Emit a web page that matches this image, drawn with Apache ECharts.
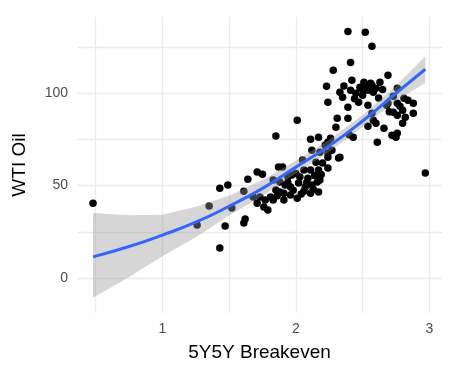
<!DOCTYPE html>
<html lang="en">
<head>
  <meta charset="UTF-8">
  <title>WTI Oil vs 5Y5Y Breakeven</title>
  <script src="https://cdn.jsdelivr.net/npm/echarts@6/dist/echarts.min.js"></script>
  <style>
    html, body { margin: 0; padding: 0; background: #fff; }
    #chart { width: 469px; height: 378px; }
  </style>
</head>
<body>
  <div id="chart"></div>
  <script>
    // scatter points: 5Y5Y breakeven (x) and WTI oil price (y)
    const breakeven = [
      0.48, 1.26, 1.35, 1.43, 1.49, 1.47, 1.43, 1.52, 1.61, 1.64, 1.62, 1.61, 1.68, 1.71, 1.71, 1.75, 1.73, 1.77, 1.76, 1.79,
      1.85, 2.01, 1.83, 1.87, 1.90, 1.88, 1.92, 1.96, 2.02, 2.07, 2.12, 2.16, 2.17, 2.11, 2.01, 1.96, 1.88, 1.85, 1.81, 1.83,
      1.91, 1.91, 2.03, 2.09, 1.97, 1.94, 2.05, 2.06, 2.11, 2.17, 2.15, 2.20, 2.12, 2.18, 2.24, 2.24, 2.32, 2.18, 2.11, 2.17,
      2.24, 2.26, 2.22, 2.27, 2.33, 2.24,
      1.98, 2.04, 2.08, 2.14, 2.13, 1.94, 2.00, 2.06, 1.86, 2.19,
      2.24, 2.23, 2.28, 2.41, 2.39, 2.52, 2.57, 2.69, 2.76, 2.88, 2.88, 2.75, 2.61, 2.66, 2.54, 2.31, 2.39, 2.30, 2.43, 2.40,
      2.51, 2.56, 2.60, 2.54, 2.48, 2.42, 2.63, 2.41, 2.33, 2.35, 2.39, 2.47, 2.54, 2.57, 2.58, 2.76, 2.81, 2.84, 2.80, 2.82,
      2.80, 2.76, 2.73, 2.68, 2.50, 2.76, 2.72, 2.73, 2.60, 2.57, 2.69, 2.97,
      2.45, 2.50, 2.53, 2.58, 2.62, 2.44, 2.36, 2.65, 2.70, 2.78
    ]
    const wti = [
      40.5, 28.6, 38.9, 48.6, 50.3, 28.1, 16.2, 37.8, 47.0, 53.5, 31.9, 29.7, 43.8, 40.5, 57.3, 56.2, 43.8, 42.2, 38.4, 36.8,
      76.8, 85.4, 53.0, 60.0, 60.0, 51.9, 50.3, 49.2, 51.4, 49.2, 50.3, 51.9, 46.5, 45.9, 43.2, 44.9, 46.5, 47.6, 43.8, 42.2,
      45.9, 42.2, 54.6, 54.0, 55.7, 54.6, 63.8, 58.4, 58.4, 58.4, 62.7, 62.2, 69.2, 68.1, 67.6, 59.5, 64.9, 53.0, 75.1, 76.2,
      73.5, 75.7, 71.9, 69.2, 65.4, 65.4,
      47.5, 45.5, 51.5, 55.5, 48.0, 51.5, 56.5, 47.0, 44.5, 56.0,
      95.1, 103.8, 112.4, 116.7, 133.5, 133.0, 125.4, 109.7, 102.7, 94.6, 89.2, 76.2, 73.5, 81.1, 82.2, 86.5, 86.5, 81.6, 76.2, 77.5,
      105.9, 105.4, 102.7, 101.6, 103.2, 107.0, 105.9, 101.6, 100.5, 97.8, 92.4, 95.1, 93.5, 89.2, 85.4, 94.6, 97.3, 96.2, 90.8, 87.0,
      83.8, 78.4, 98.4, 93.5, 98.9, 88.1, 77.3, 89.7, 83.8, 104.3, 94.6, 56.8,
      100.0, 102.0, 104.5, 100.5, 97.5, 97.0, 104.0, 102.0, 90.0, 93.0
    ]

    // smoothed fit and its confidence band
    const fitX  = [0.48, 0.75, 1.0, 1.25, 1.5, 1.75, 2.0, 2.25, 2.5, 2.75, 2.97]
    const fitY  = [11.4, 17.0, 23.2, 30.2, 38.8, 48.5, 60.0, 71.5, 85.0, 100.0, 113.0]
    const fitHi = [35.1, 34.0, 34.2, 38.6, 44.5, 53.0, 63.5, 74.8, 88.2, 104.0, 120.0]
    const fitLo = [-10.8, 0.5, 11.8, 22.0, 33.8, 44.5, 56.5, 68.2, 81.8, 96.0, 105.5]

    const xTicks = [1, 2, 3]
    const yTicks = [0, 50, 100]

    const chart = echarts.init(document.getElementById('chart'))
    const font = 'Liberation Sans, Arial, sans-serif'
    const grid = { color: '#EBEBEB', width: 1.3 }

    chart.setOption({
      animation: false,
      grid: { left: 77, right: 27, top: 17, bottom: 65 },
      xAxis: {
        type: 'value',
        min: 0.36,
        max: 3.095,
        minInterval: 0.5,
        maxInterval: 0.5,
        name: '5Y5Y Breakeven',
        nameLocation: 'middle',
        nameGap: 30,
        nameTextStyle: { fontFamily: font, fontSize: 19, color: '#000' },
        axisLine: { show: false },
        axisTick: { show: false },
        axisLabel: {
          fontFamily: font, fontSize: 14, color: '#4D4D4D', margin: 9,
          showMinLabel: false, showMaxLabel: false,
          formatter: v => xTicks.includes(Math.round(v * 100) / 100) ? String(v) : ''
        },
        splitLine: { show: true, showMinLine: false, showMaxLine: false, lineStyle: grid }
      },
      yAxis: {
        type: 'value',
        min: -19,
        max: 141.3,
        minInterval: 25,
        maxInterval: 25,
        name: 'WTI Oil',
        nameLocation: 'middle',
        nameGap: 48,
        nameTextStyle: { fontFamily: font, fontSize: 19, color: '#000' },
        axisLine: { show: false },
        axisTick: { show: false },
        axisLabel: {
          fontFamily: font, fontSize: 14, color: '#4D4D4D', margin: 9,
          showMinLabel: false, showMaxLabel: false,
          formatter: v => yTicks.includes(v) ? String(v) : ''
        },
        splitLine: { show: true, showMinLine: false, showMaxLine: false, lineStyle: grid }
      },
      series: [
        {
          type: 'scatter',
          z: 1,
          symbolSize: 7.5,
          itemStyle: { color: '#000', opacity: 1 },
          data: breakeven.map((x, i) => [x, wti[i]])
        },
        {
          // confidence band as a polygon in data coordinates
          type: 'custom',
          z: 2,
          silent: true,
          data: [[1, 50]],
          renderItem: (params, api) => {
            const pts = []
            fitX.forEach((x, i) => pts.push(api.coord([x, fitHi[i]])))
            for (let i = fitX.length - 1; i >= 0; i--) pts.push(api.coord([fitX[i], fitLo[i]]))
            return {
              type: 'polygon',
              shape: { points: pts },
              style: { fill: 'rgba(153,153,153,0.4)' }
            }
          }
        },
        {
          type: 'line',
          z: 3,
          smooth: true,
          showSymbol: false,
          lineStyle: { color: '#3366FF', width: 3 },
          data: fitX.map((x, i) => [x, fitY[i]])
        }
      ]
    })
  </script>
</body>
</html>
